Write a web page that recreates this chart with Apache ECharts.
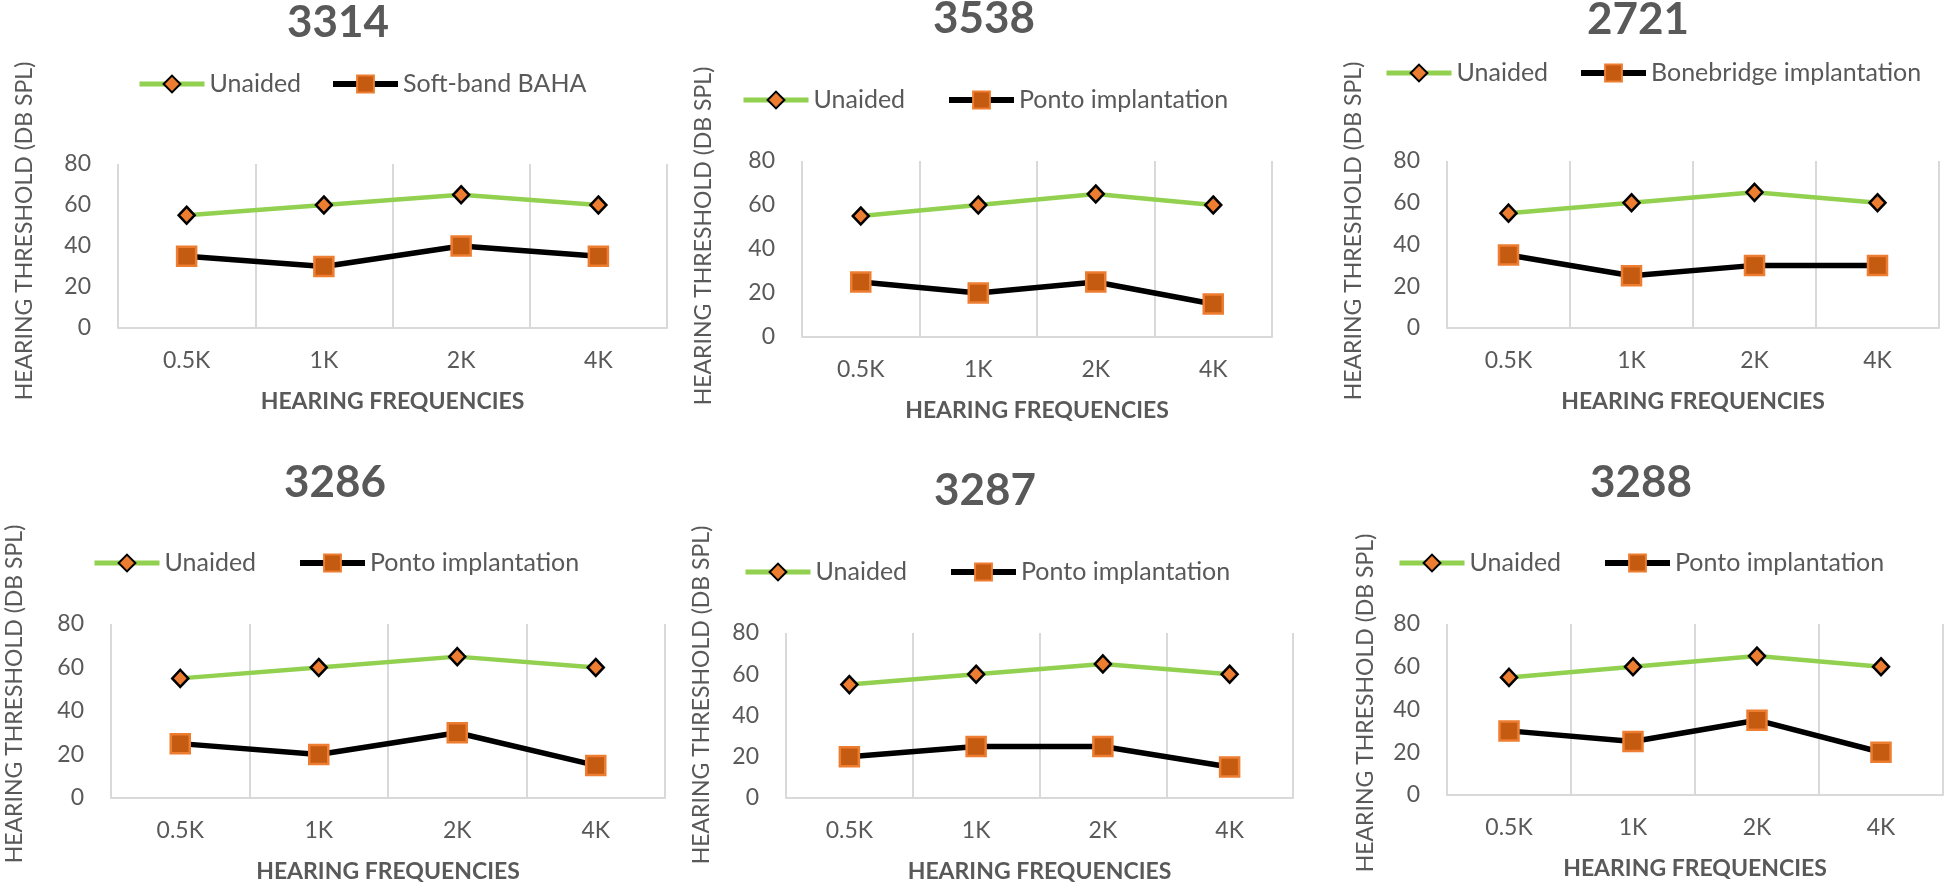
<!DOCTYPE html>
<html>
<head>
<meta charset="utf-8">
<script src="https://cdn.jsdelivr.net/npm/echarts@6/dist/echarts.min.js"></script>
<style>
  html, body { margin: 0; padding: 0; background: #ffffff; }
  #chart { width: 1946px; height: 888px; }
</style>
</head>
<body>
<div id="chart"></div>
<script>
// ---------- data ----------
const categories = ['0.5K', '1K', '2K', '4K'];
const chartTitles = ['3314', '3538', '2721', '3286', '3287', '3288'];
const unaidedName = 'Unaided';
const aidedNames = ['Soft-band BAHA', 'Ponto implantation', 'Bonebridge implantation',
                    'Ponto implantation', 'Ponto implantation', 'Ponto implantation'];
const unaided3314 = [55, 60, 65, 60];
const aided3314   = [35, 30, 40, 35];
const unaided3538 = [55, 60, 65, 60];
const aided3538   = [25, 20, 25, 15];
const unaided2721 = [55, 60, 65, 60];
const aided2721   = [35, 25, 30, 30];
const unaided3286 = [55, 60, 65, 60];
const aided3286   = [25, 20, 30, 15];
const unaided3287 = [55, 60, 65, 60];
const aided3287   = [20, 25, 25, 15];
const unaided3288 = [55, 60, 65, 60];
const aided3288   = [30, 25, 35, 20];
const yTicks = [0, 20, 40, 60, 80];
const yAxisTitle = 'HEARING THRESHOLD (DB SPL)';
const xAxisTitle = 'HEARING FREQUENCIES';

const unaidedSets = [unaided3314, unaided3538, unaided2721, unaided3286, unaided3287, unaided3288];
const aidedSets = [aided3314, aided3538, aided2721, aided3286, aided3287, aided3288];

// ---------- layout (pixels) ----------
const layout = [
  { grid: [118, 164, 549, 164], title: [338, 23],  yt: [25, 231],   leg: [137, 82, 330] },
  { grid: [802, 161, 470, 176], title: [984, 19],  yt: [704, 236],  leg: [741, 98, 946] },
  { grid: [1447, 161, 492, 167], title: [1638, 20], yt: [1354, 231], leg: [1384, 71, 1578] },
  { grid: [111, 624, 554, 174], title: [335, 483], yt: [15, 694],   leg: [92, 561, 297] },
  { grid: [786, 633, 507, 165], title: [985, 491], yt: [702, 695],  leg: [743, 570, 948] },
  { grid: [1447, 624, 496, 171], title: [1641, 483], yt: [1366, 703], leg: [1397, 561, 1602] }
];

const FONT = 'Lato, "Liberation Sans", sans-serif';
const TXT = '#595959';
const GRIDC = '#D9D9D9';
const GREEN = '#92D050';
const ORANGE = '#ED7D31';
const DARKOR = '#C55A11';

const grids = [], xAxes = [], yAxes = [], series = [], legends = [], graphics = [];
const legH = 21;

layout.forEach((L, i) => {
  const [gl, gt, gw, gh] = L.grid;
  grids.push({ left: gl, top: gt, width: gw, height: gh, containLabel: false });
  xAxes.push({
    type: 'category', gridIndex: i, data: categories, boundaryGap: true,
    axisLine: { show: true, lineStyle: { color: GRIDC, width: 2 } },
    axisTick: { show: false },
    splitLine: { show: true, lineStyle: { color: GRIDC, width: 2 } },
    axisLabel: { color: TXT, fontFamily: FONT, fontSize: 23, margin: 21 },
    name: xAxisTitle, nameLocation: 'middle', nameGap: 62,
    nameTextStyle: { color: TXT, fontFamily: FONT, fontSize: 23, fontWeight: 'bold' }
  });
  yAxes.push({
    type: 'value', gridIndex: i,
    min: yTicks[0], max: yTicks[yTicks.length - 1], interval: yTicks[1] - yTicks[0],
    axisLine: { show: false }, axisTick: { show: false }, splitLine: { show: false },
    axisLabel: { color: TXT, fontFamily: FONT, fontSize: 23, margin: 27 }
  });
  series.push({
    name: unaidedName, type: 'line', xAxisIndex: i, yAxisIndex: i,
    data: unaidedSets[i], symbol: 'diamond', symbolSize: [16, 17],
    lineStyle: { color: GREEN, width: 4.5 },
    itemStyle: { color: ORANGE, borderColor: '#000000', borderWidth: 2.5 },
    z: 3
  });
  series.push({
    name: aidedNames[i], type: 'line', xAxisIndex: i, yAxisIndex: i,
    data: aidedSets[i], symbol: 'rect', symbolSize: 19,
    lineStyle: { color: '#000000', width: 5.5 },
    itemStyle: { color: DARKOR, borderColor: ORANGE, borderWidth: 2.5 },
    z: 2
  });
  const legCommon = {
    orient: 'horizontal', padding: 0, itemWidth: 65, itemHeight: legH,
    selectedMode: false,
    textStyle: { color: TXT, fontFamily: FONT, fontSize: 25 }
  };
  legends.push(Object.assign({}, legCommon, {
    data: [unaidedName], left: L.leg[0], top: L.leg[1] - legH / 2,
    lineStyle: { width: 5 }
  }));
  legends.push(Object.assign({}, legCommon, {
    data: [aidedNames[i]], left: L.leg[2], top: L.leg[1] - legH / 2,
    lineStyle: { width: 6 }
  }));
  graphics.push({
    type: 'text', x: L.title[0], y: L.title[1],
    style: { text: chartTitles[i], fill: TXT, font: 'bold 44px ' + FONT, textAlign: 'center', textVerticalAlign: 'middle' }
  });
  graphics.push({
    type: 'text', x: L.yt[0], y: L.yt[1], rotation: Math.PI / 2,
    style: { text: yAxisTitle, fill: TXT, font: '23px ' + FONT, textAlign: 'center', textVerticalAlign: 'middle' }
  });
});

const chart = echarts.init(document.getElementById('chart'), null, { renderer: 'canvas' });
chart.setOption({
  backgroundColor: '#ffffff',
  animation: false,
  grid: grids,
  xAxis: xAxes,
  yAxis: yAxes,
  legend: legends,
  series: series,
  graphic: graphics
});
</script>
</body>
</html>
